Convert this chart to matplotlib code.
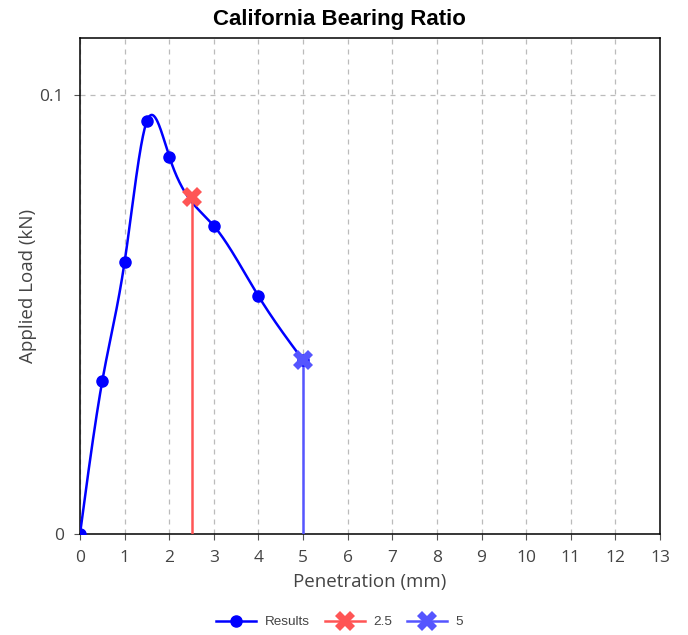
import numpy as np
import matplotlib.pyplot as plt
from matplotlib.lines import Line2D
from matplotlib.ticker import FixedLocator, FixedFormatter

plt.rcParams.update({
    "font.family": "sans-serif",
    "font.sans-serif": ["Open Sans", "DejaVu Sans"],
})

# data
penetration = [0, 0.5, 1, 1.5, 2, 3, 4, 5]
load = [0, 0.0349, 0.0620, 0.0941, 0.0860, 0.0702, 0.0542, 0.0396]
check_pen = [2.5, 5]
check_load = [0.0768, 0.0396]
check_labels = ["2.5", "5"]
check_colors = ["#ff5555", "#5555ff"]
x_ticks = list(range(0, 14))
y_ticks = [0, 0.1]
y_tick_labels = ["0", "0.1"]


def natural_spline(x, y, n=600):
    x = np.asarray(x, float)
    y = np.asarray(y, float)
    h = np.diff(x)
    k = len(x)
    A = np.zeros((k, k))
    r = np.zeros(k)
    A[0, 0] = A[-1, -1] = 1
    for i in range(1, k - 1):
        A[i, i - 1] = h[i - 1]
        A[i, i] = 2 * (h[i - 1] + h[i])
        A[i, i + 1] = h[i]
        r[i] = 6 * ((y[i + 1] - y[i]) / h[i] - (y[i] - y[i - 1]) / h[i - 1])
    M = np.linalg.solve(A, r)
    xs = np.linspace(x[0], x[-1], n)
    idx = np.clip(np.searchsorted(x, xs) - 1, 0, k - 2)
    x0, x1 = x[idx], x[idx + 1]
    hh = x1 - x0
    a = (x1 - xs) / hh
    b = (xs - x0) / hh
    ys = a * y[idx] + b * y[idx + 1] + ((a ** 3 - a) * M[idx] + (b ** 3 - b) * M[idx + 1]) * hh ** 2 / 6
    return xs, ys


fig = plt.figure(figsize=(6.88, 6.35), dpi=100)
ax = fig.add_axes([80 / 688, 1 - 534 / 635, 580 / 688, 496 / 635])

xs, ys = natural_spline(penetration, load)
ax.plot(xs, ys, color="#0000ff", linewidth=1.8, zorder=3)
ax.plot(penetration, load, "o", color="#0000ff", markersize=8, zorder=4)

for px, py, c in zip(check_pen, check_load, check_colors):
    ax.plot([px, px], [0, py], color=c, linewidth=1.8, zorder=3)
    ax.plot([px], [py], marker="X", color=c, markersize=15, markeredgewidth=0, zorder=5)

ax.set_xlim(0, 13)
ax.set_ylim(0, 0.113)
ax.xaxis.set_major_locator(FixedLocator(x_ticks))
ax.yaxis.set_major_locator(FixedLocator(y_ticks))
ax.yaxis.set_major_formatter(FixedFormatter(y_tick_labels))
ax.grid(True, color="#bbbbbb", linestyle=(0, (4, 4)), linewidth=0.9)
ax.set_axisbelow(True)
ax.tick_params(length=4.5, width=0.8, color="#555555", labelcolor="#444444",
               labelsize=12.5, pad=7)
for sp in ax.spines.values():
    sp.set_color("black")
    sp.set_linewidth(1.1)

ax.set_xlabel("Penetration (mm)", fontsize=13.5, color="#444444", labelpad=5)
ax.set_ylabel("Applied Load (kN)", fontsize=13.5, color="#444444", labelpad=2)
fig.suptitle("California Bearing Ratio", x=0.494, y=1 - 20 / 635, va="center",
             fontsize=16, fontweight="bold", family="Liberation Sans")

handles = [Line2D([0], [0], color="#0000ff", linewidth=1.8, marker="o", markersize=8, label="Results")]
for lab, c in zip(check_labels, check_colors):
    handles.append(Line2D([0], [0], color=c, linewidth=1.8, marker="X", markersize=15,
                          markeredgewidth=0, label=lab))
fig.legend(handles=handles, loc="center", bbox_to_anchor=(0.494, 1 - 622 / 635), ncol=3,
           frameon=False, prop={"family": "Liberation Sans", "size": 9.7},
           labelcolor="#444444", handlelength=2.95, columnspacing=1.1, handletextpad=0.65)

fig.savefig("out.png", dpi=100, facecolor="white")
